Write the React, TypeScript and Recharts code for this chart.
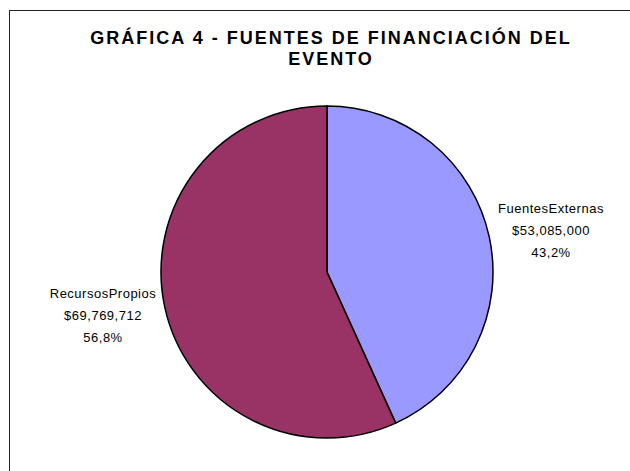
import React from "react";
import { PieChart, Pie, Cell } from "recharts";

const categories = ["FuentesExternas", "RecursosPropios"];
const amounts = [53085000, 69769712];
const percentLabels = ["43,2%", "56,8%"];
const sliceColors = ["#9999FF", "#993366"];
const titleLines = ["GRÁFICA 4 - FUENTES DE FINANCIACIÓN DEL", "EVENTO"];

const data = categories.map((name, i) => ({
  name,
  value: amounts[i],
  pct: percentLabels[i],
}));

const fmt = (v: number) => "$" + v.toLocaleString("en-US");

const RADIAN = Math.PI / 180;

const renderLabel = (props: any) => {
  const { cx, cy, midAngle, outerRadius, index } = props;
  const d = data[index];
  const cos = Math.cos(-midAngle * RADIAN);
  const sin = Math.sin(-midAngle * RADIAN);
  const right = cos >= 0;
  const x = cx + (right ? outerRadius + 58 : -(outerRadius + 58));
  const yMid = cy + sin * outerRadius + (right ? -2 : 13);
  return (
    <text
      x={x}
      y={yMid - 22}
      textAnchor="middle"
      fontFamily="'Liberation Sans', Arial, sans-serif"
      fontSize={13}
      letterSpacing={0.5}
      fill="#000"
    >
      <tspan x={x} dy={0}>{d.name}</tspan>
      <tspan x={x} dy={22}>{fmt(d.value)}</tspan>
      <tspan x={x} dy={22}>{d.pct}</tspan>
    </text>
  );
};

export default function App() {
  return (
    <div
      style={{
        position: "absolute",
        left: 0,
        top: 0,
        width: 630,
        height: 471,
        overflow: "hidden",
        background: "#fff",
      }}
    >
      <div
        style={{
          position: "absolute",
          left: 9,
          top: 10,
          width: 640,
          height: 480,
          border: "1px solid #222",
          boxSizing: "border-box",
        }}
      />
      <div
        style={{
          position: "absolute",
          left: 0,
          top: 28,
          width: 662,
          textAlign: "center",
          fontFamily: "'Liberation Sans', Arial, sans-serif",
          fontWeight: "bold",
          fontSize: 18,
          letterSpacing: 2,
          lineHeight: "21px",
          color: "#000",
        }}
      >
        {titleLines[0]}
        <br />
        {titleLines[1]}
      </div>
      <div style={{ position: "absolute", left: 0, top: 0 }}>
        <PieChart width={630} height={471}>
          <Pie
            data={data}
            dataKey="value"
            nameKey="name"
            cx={322}
            cy={267}
            outerRadius={166}
            startAngle={90}
            endAngle={-270}
            stroke="#000"
            strokeWidth={1.5}
            label={renderLabel}
            labelLine={false}
            isAnimationActive={false}
          >
            {data.map((d, i) => (
              <Cell key={d.name} fill={sliceColors[i]} />
            ))}
          </Pie>
        </PieChart>
      </div>
    </div>
  );
}
